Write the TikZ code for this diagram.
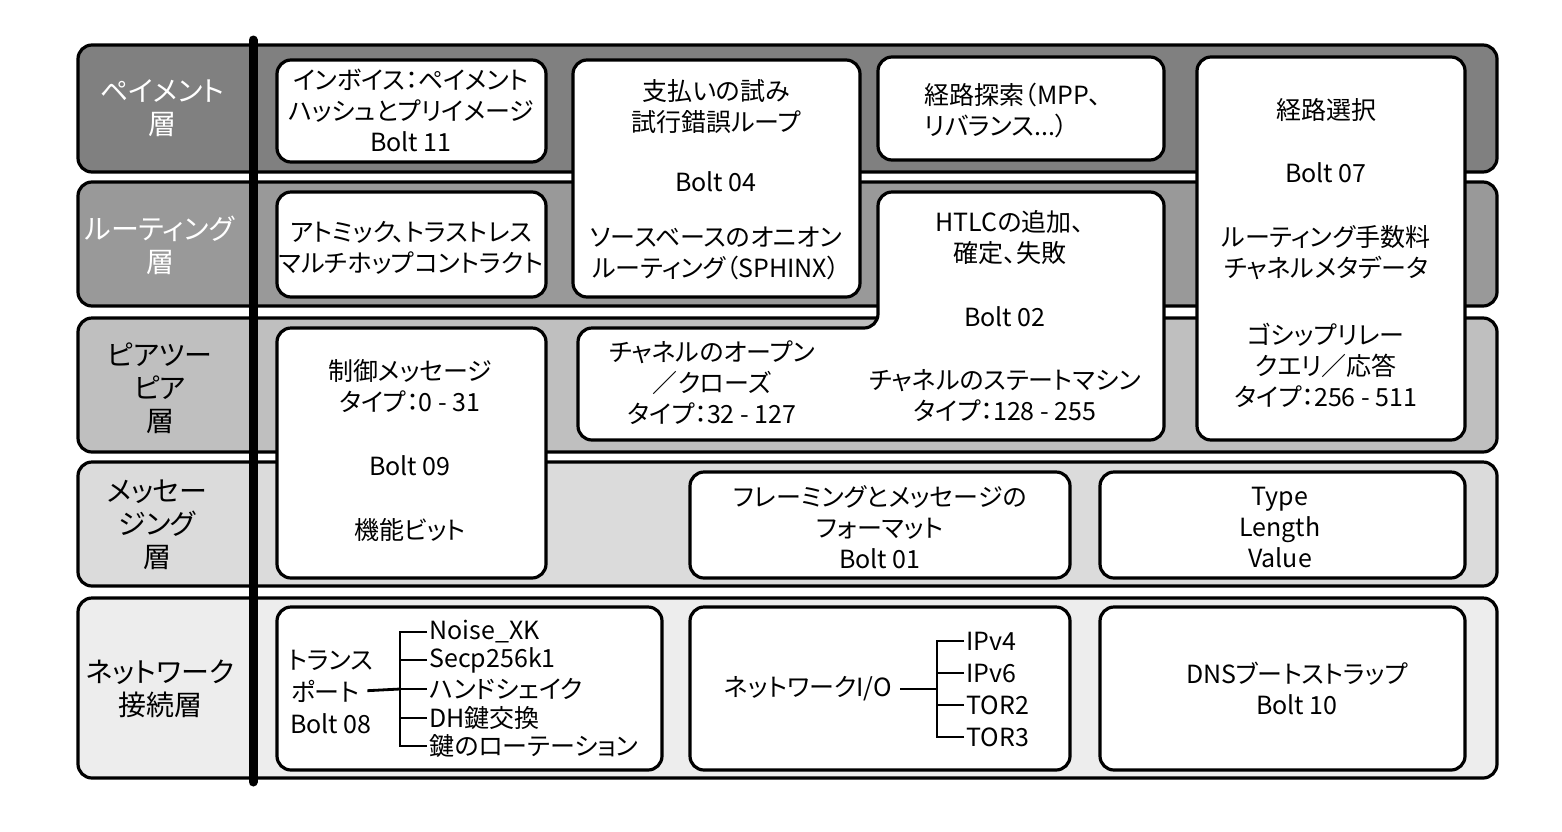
\documentclass[tikz,border=0pt]{standalone}
\usepackage{fontspec}
\usepackage{tikz}
\newfontfamily\jpfont[RawFeature=+palt]{Noto Sans CJK JP}
\definecolor{payfill}{gray}{0.50}
\definecolor{routefill}{gray}{0.60}
\definecolor{peerfill}{gray}{0.75}
\definecolor{msgfill}{gray}{0.86}
\definecolor{netfill}{gray}{0.93}

\begin{document}
\begin{tikzpicture}[x=0.5pt, y=-0.5pt,
    band/.style={draw, line width=1.6pt, rounded corners=7pt},
    box/.style={draw, fill=white, line width=1.6pt, rounded corners=7pt},
    txt/.style={font=\jpfont\fontsize{12.5}{15.5}\selectfont, align=center, inner sep=1pt},
    lbl/.style={font=\jpfont\fontsize{14}{16.5}\selectfont, align=center, inner sep=1pt},
    leaf/.style={txt, anchor=west},
    tree/.style={line width=1.4pt}]
        \fill[white] (0,0) rectangle (1562,831);
        \useasboundingbox (0,0) rectangle (1562,831);
        \draw[band, fill=payfill] (78,45) rectangle (1497,172);
        \draw[band, fill=routefill] (78,182) rectangle (1497,306);
        \draw[band, fill=peerfill] (78,318) rectangle (1497,452);
        \draw[band, fill=msgfill] (78,462) rectangle (1497,586);
        \draw[band, fill=netfill] (78,598) rectangle (1497,778);
        \draw[line width=4.5pt, line cap=round] (253,40) -- (253,782);
        \node[lbl, white] (payL) at (162,108) {ペイメント\\層};
        \node[lbl, white] (routeL) at (160,245) {ルーティング\\層};
        \node[lbl] (peerL) at (160,388) {ピアツー\\ピア\\層};
        \node[lbl] (msgL) at (157,525) {メッセー\\ジング\\層};
        \node[lbl] (netL) at (160,689) {ネットワーク\\接続層};
        \draw[box] (277,60) rectangle (546,162);
        \draw[box] (573,60) rectangle (860,297);
        \draw[box] (878,57) rectangle (1164,160);
        \draw[box] (1197,57) rectangle (1465,440);
        \draw[box] (277,192) rectangle (546,297);
        \draw[box] (878,192) -- (1164,192) -- (1164,440) -- (578,440) -- (578,328) -- (878,328) -- cycle;
        \draw[box] (277,328) rectangle (546,578);
        \draw[box] (690,472) rectangle (1070,578);
        \draw[box] (1100,472) rectangle (1465,578);
        \draw[box] (277,607) rectangle (662,770);
        \draw[box] (690,607) rectangle (1070,770);
        \draw[box] (1100,607) rectangle (1465,770);
        \node[txt] (invoice) at (411,110) {インボイス：ペイメント\\ハッシュとプリイメージ\\Bolt 11};
        \node[txt] (attempt) at (716,107) {支払いの試み\\試行錯誤ループ};
        \node[txt] (bolt04) at (716,182) {Bolt 04};
        \node[txt] (onion) at (716,253) {ソースベースのオニオン\\ルーティング（SPHINX）};
        \node[txt, align=left] (pathfind) at (1013,110) {経路探索（MPP、\\リバランス...）};
        \node[txt] (routesel) at (1326,110) {経路選択};
        \node[txt] (bolt07) at (1326,173) {Bolt 07};
        \node[txt] (fees) at (1326,253) {ルーティング手数料\\チャネルメタデータ};
        \node[txt] (gossip) at (1326,365) {ゴシップリレー\\クエリ／応答\\タイプ：256 - 511};
        \node[txt] (atomic) at (411,248) {アトミック、トラストレス\\マルチホップコントラクト};
        \node[txt] (htlc) at (1010,238) {HTLCの追加、\\確定、失敗};
        \node[txt] (bolt02) at (1005,317) {Bolt 02};
        \node[txt] (state) at (1005,396) {チャネルのステートマシン\\タイプ：128 - 255};
        \node[txt] (openclose) at (712,383) {チャネルのオープン\\／クローズ\\タイプ：32 - 127};
        \node[txt] (control) at (410,386) {制御メッセージ\\タイプ：0 - 31};
        \node[txt] (bolt09) at (410,466) {Bolt 09};
        \node[txt] (features) at (410,530) {機能ビット};
        \node[txt] (framing) at (880,527) {フレーミングとメッセージの\\フォーマット\\Bolt 01};
        \node[txt] (tlv) at (1280,527) {Type\\Length\\Value};
        \node[txt] (trans) at (331,660) {トランス};
        \node[txt] (port) at (325,691) {ポート};
        \node[txt] (bolt08) at (331,724) {Bolt 08};
        \coordinate (tj) at (400,689);
        \node[leaf] (noise) at (427,632) {Noise\_XK};
        \node[leaf] (secp) at (427,660) {Secp256k1};
        \node[leaf] (hand) at (427,689) {ハンドシェイク};
        \node[leaf] (dh) at (427,718) {DH鍵交換};
        \node[leaf] (rot) at (427,746) {鍵のローテーション};
        \draw[tree, shorten <=3pt] (port.east) -- (tj);
        \foreach \n in {noise,secp,hand,dh,rot}
            \draw[tree] (\n.west) -| (tj);
        \node[txt] (netio) at (808,689) {ネットワークI/O};
        \coordinate (nj) at (937,689);
        \node[leaf] (ipv4) at (964,641) {IPv4};
        \node[leaf] (ipv6) at (964,673) {IPv6};
        \node[leaf] (tor2) at (964,705) {TOR2};
        \node[leaf] (tor3) at (964,737) {TOR3};
        \draw[tree, shorten <=3pt] (netio.east) -- (nj);
        \foreach \n in {ipv4,ipv6,tor2,tor3}
            \draw[tree] (\n.west) -| (nj);
        \node[txt] (dns) at (1297,688) {DNSブートストラップ\\Bolt 10};
      \end{tikzpicture}
\end{document}
